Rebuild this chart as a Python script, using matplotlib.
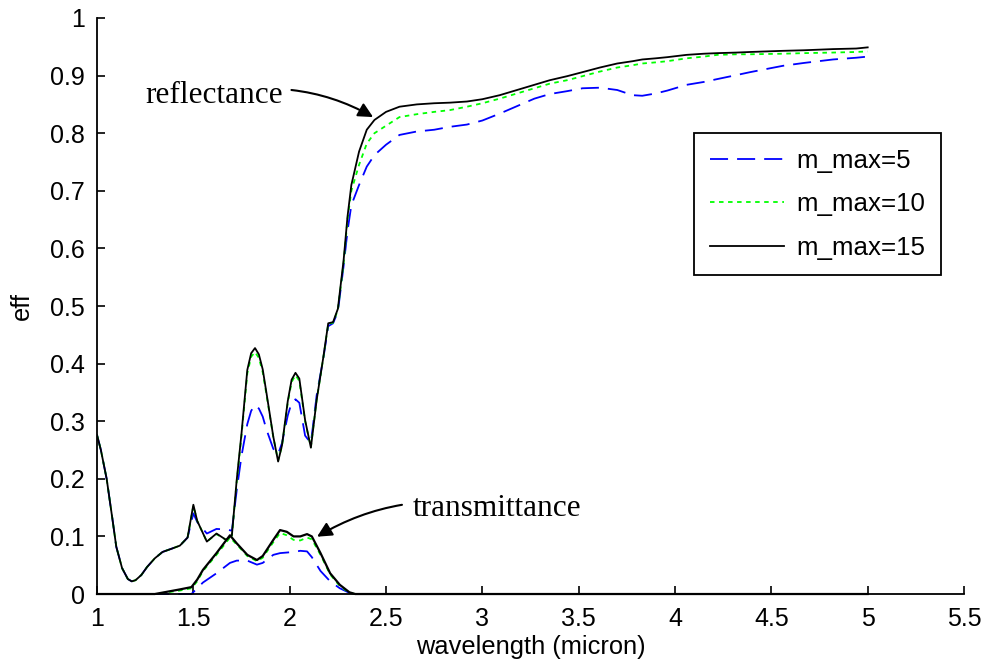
import numpy as np
import matplotlib
matplotlib.use("Agg")
import matplotlib.pyplot as plt

plt.rcParams['font.family'] = ['Liberation Sans', 'DejaVu Sans']

# reflectance
wl_r = [1.00, 1.02, 1.05, 1.08, 1.10, 1.13, 1.16, 1.18, 1.20, 1.23, 1.26, 1.30,
        1.34, 1.39, 1.43, 1.47,
        1.50, 1.52, 1.57, 1.62, 1.67, 1.70, 1.725, 1.75, 1.78, 1.80, 1.82, 1.84,
        1.86, 1.88, 1.915, 1.94, 1.96, 1.99, 2.01, 2.03, 2.05, 2.08, 2.11, 2.14,
        2.175, 2.20, 2.225, 2.25, 2.28, 2.30, 2.32, 2.36, 2.40, 2.44, 2.50,
        2.57, 2.66, 2.75, 2.83, 2.92, 3.00, 3.09, 3.18, 3.27, 3.35, 3.44, 3.52,
        3.61, 3.70, 3.78, 3.83, 3.90, 3.96, 4.06, 4.15, 4.22, 4.32, 4.39, 4.56,
        4.67, 4.82, 4.94, 5.00]
refl_15 = [0.276, 0.250, 0.200, 0.130, 0.082, 0.045, 0.026, 0.022, 0.024, 0.033, 0.047, 0.062,
           0.073, 0.079, 0.084, 0.098,
           0.155, 0.127, 0.091, 0.105, 0.094, 0.102, 0.198, 0.279, 0.389, 0.418, 0.427, 0.416,
           0.390, 0.348, 0.273, 0.230, 0.258, 0.335, 0.372, 0.384, 0.374, 0.302, 0.254, 0.337,
           0.412, 0.470, 0.472, 0.495, 0.580, 0.655, 0.710, 0.768, 0.806, 0.823, 0.837,
           0.846, 0.850, 0.852, 0.853, 0.855, 0.859, 0.866, 0.875, 0.884, 0.892, 0.899, 0.906,
           0.914, 0.921, 0.925, 0.928, 0.930, 0.932, 0.936, 0.938, 0.939, 0.940, 0.941, 0.943,
           0.944, 0.946, 0.947, 0.949]
refl_10 = [0.276, 0.250, 0.200, 0.130, 0.082, 0.045, 0.026, 0.022, 0.024, 0.033, 0.047, 0.062,
           0.073, 0.079, 0.084, 0.098,
           0.153, 0.127, 0.091, 0.104, 0.094, 0.101, 0.195, 0.275, 0.383, 0.412, 0.420, 0.410,
           0.385, 0.345, 0.272, 0.232, 0.257, 0.332, 0.368, 0.380, 0.370, 0.300, 0.255, 0.337,
           0.411, 0.469, 0.471, 0.493, 0.575, 0.650, 0.700, 0.745, 0.782, 0.800, 0.813,
           0.828, 0.833, 0.837, 0.840, 0.846, 0.852, 0.860, 0.869, 0.878, 0.886, 0.892, 0.899,
           0.907, 0.914, 0.918, 0.921, 0.923, 0.925, 0.930, 0.933, 0.936, 0.937, 0.937, 0.938,
           0.939, 0.940, 0.941, 0.942]
refl_5 = [0.276, 0.250, 0.200, 0.130, 0.082, 0.045, 0.026, 0.022, 0.024, 0.033, 0.047, 0.062,
          0.073, 0.079, 0.084, 0.098,
          0.140, 0.125, 0.105, 0.113, 0.112, 0.110, 0.180, 0.240, 0.295, 0.318, 0.328, 0.322,
          0.308, 0.285, 0.252, 0.243, 0.262, 0.310, 0.332, 0.338, 0.332, 0.275, 0.262, 0.345,
          0.410, 0.465, 0.470, 0.490, 0.570, 0.630, 0.675, 0.710, 0.742, 0.762, 0.780,
          0.797, 0.803, 0.806, 0.811, 0.815, 0.822, 0.834, 0.847, 0.860, 0.868, 0.873, 0.878,
          0.879, 0.875, 0.866, 0.865, 0.869, 0.874, 0.884, 0.889, 0.894, 0.901, 0.906, 0.917,
          0.922, 0.928, 0.931, 0.933]

# transmittance
wl_t = [1.00, 1.30, 1.43, 1.49, 1.52, 1.55, 1.62, 1.69, 1.725, 1.78, 1.83, 1.86,
        1.915, 1.95, 1.985, 2.02, 2.055, 2.09, 2.115, 2.16, 2.21, 2.26, 2.31, 2.34, 5.00]
trans_15 = [0, 0, 0.008, 0.012, 0.025, 0.042, 0.071, 0.102, 0.088, 0.068, 0.059, 0.066,
            0.094, 0.111, 0.108, 0.100, 0.100, 0.104, 0.100, 0.071, 0.036, 0.016, 0.003, 0, 0]
trans_10 = [0, 0, 0.006, 0.010, 0.022, 0.040, 0.068, 0.098, 0.086, 0.066, 0.057, 0.063,
            0.090, 0.106, 0.102, 0.094, 0.093, 0.098, 0.095, 0.068, 0.034, 0.014, 0.002, 0, 0]
trans_5 = [0, 0, 0, 0, 0.010, 0.020, 0.036, 0.054, 0.058, 0.058, 0.051, 0.054,
           0.068, 0.071, 0.072, 0.073, 0.075, 0.074, 0.064, 0.040, 0.022, 0.010, 0.002, 0, 0]

x_ticks = [1, 1.5, 2, 2.5, 3, 3.5, 4, 4.5, 5, 5.5]
x_labels = ["1", "1.5", "2", "2.5", "3", "3.5", "4", "4.5", "5", "5.5"]
y_ticks = [0, 0.1, 0.2, 0.3, 0.4, 0.5, 0.6, 0.7, 0.8, 0.9, 1]
y_labels = ["0", "0.1", "0.2", "0.3", "0.4", "0.5", "0.6", "0.7", "0.8", "0.9", "1"]

fig = plt.figure(figsize=(9.83, 6.64), dpi=100)
ax = fig.add_axes([0.0987, 0.1054, 0.882, 0.8675])

lw = 1.3
l5, = ax.plot(wl_r, refl_5, color='#0000ff', lw=lw, dashes=(10, 5), label='m_max=5')
ax.plot(wl_t, trans_5, color='#0000ff', lw=lw, dashes=(10, 5), clip_on=False)
l10, = ax.plot(wl_r, refl_10, color='#00ff00', lw=lw, dashes=(2.5, 2.5), label='m_max=10')
ax.plot(wl_t, trans_10, color='#00ff00', lw=lw, dashes=(2.5, 2.5), clip_on=False)
l15, = ax.plot(wl_r, refl_15, color='black', lw=lw, label='m_max=15')
ax.plot(wl_t, trans_15, color='black', lw=lw + 0.3, clip_on=False)

ax.set_xlim(1, 5.5)
ax.set_ylim(0, 1)
ax.set_xticks(x_ticks)
ax.set_xticklabels(x_labels)
ax.set_yticks(y_ticks)
ax.set_yticklabels(y_labels)
ax.tick_params(direction='in', length=6, width=1.2, labelsize=18, pad=9)
for s in ['top', 'right']:
    ax.spines[s].set_visible(False)
for s in ['left', 'bottom']:
    ax.spines[s].set_linewidth(1.3)

ax.set_xlabel("wavelength (micron)", fontsize=18.3, labelpad=3)
ax.set_ylabel("eff", fontsize=18.3, labelpad=11)

leg = ax.legend(handles=[l5, l10, l15], loc='upper right', bbox_to_anchor=(0.973, 0.800),
                fontsize=18.6, fancybox=False, framealpha=1, edgecolor='black',
                handlelength=2.9, labelspacing=0.76, borderpad=0.6, handletextpad=0.45,
                borderaxespad=0)
leg.get_frame().set_linewidth(1.3)

ax.annotate("reflectance", xy=(2.433, 0.828), xytext=(1.966, 0.865),
            fontsize=22.5, family='Liberation Serif', ha='right', va='center',
            arrowprops=dict(arrowstyle='-|>', color='black', lw=1.5, mutation_scale=22,
                            connectionstyle='arc3,rad=-0.2', shrinkA=4, shrinkB=0))
ax.annotate("transmittance", xy=(2.142, 0.0995), xytext=(2.64, 0.149),
            fontsize=22.5, family='Liberation Serif', ha='left', va='center',
            arrowprops=dict(arrowstyle='-|>', color='black', lw=1.5, mutation_scale=22,
                            connectionstyle='arc3,rad=0.2', shrinkA=6, shrinkB=0))

fig.savefig("out.png", dpi=100)
